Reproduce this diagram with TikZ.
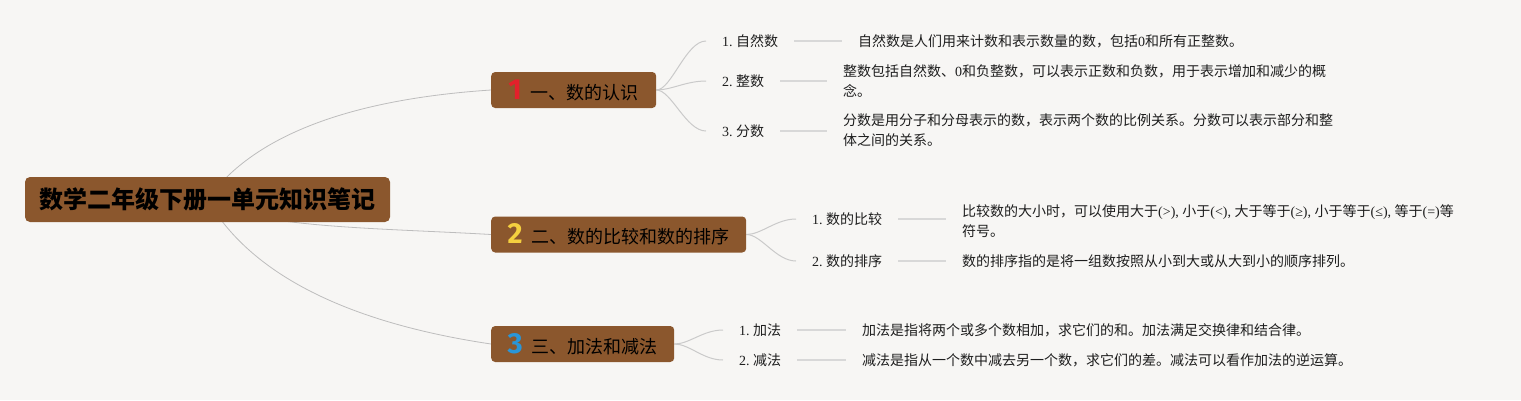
\documentclass[tikz,border=0pt]{standalone}
\usepackage{fontspec}
\setmainfont{Noto Sans CJK SC}
\newfontfamily\lat{Liberation Serif}
\newfontfamily\digitfont{Fira Sans}
\usetikzlibrary{calc}
\definecolor{bgc}{HTML}{F7F6F4}
\definecolor{boxc}{HTML}{8B572D}
\definecolor{rootline}{HTML}{BDBDBD}
\definecolor{leaflinec}{HTML}{CACACA}
\definecolor{stubline}{HTML}{D8D8D8}
\definecolor{numred}{HTML}{E3202B}
\definecolor{numyellow}{HTML}{F4D03F}
\definecolor{numblue}{HTML}{2A96D8}
\definecolor{txt}{HTML}{1E1E1E}
\pgfdeclarelayer{bg}
\pgfsetlayers{bg,main}
\newcommand\bnum[2]{{\digitfont\bfseries\fontsize{29}{29}\selectfont\color{#1}#2}\hspace{9pt}}
\newcommand\num[1]{{\lat #1.}\hspace{3.5pt}}
\newcommand\sym[1]{{\lat (#1),}\hspace{3.5pt}}
\newcommand\lines[1]{\begin{tabular}{@{}l@{}}#1\end{tabular}}
\begin{document}
\begin{tikzpicture}[x=1pt,y=-1pt,
 rootbox/.style={fill=boxc, rounded corners=5pt, minimum width=365pt, minimum height=45pt, inner sep=0pt, font=\fontsize{24}{28}\selectfont\bfseries, text=black},
 branchbox/.style={fill=boxc, rounded corners=4pt, minimum height=36pt, inner sep=0pt, anchor=west, font=\fontsize{18}{22}\selectfont, text=black},
 leaflabel/.style={anchor=west, inner xsep=16pt, inner ysep=0pt, font=\fontsize{14}{20}\selectfont, text=txt},
 leaftext/.style={anchor=west, inner xsep=16pt, inner ysep=0pt, font=\fontsize{14}{20}\selectfont, text=txt},
 mainlink/.style={draw=rootline, line width=0.8pt},
 sublink/.style={draw=leaflinec, line width=1pt},
 stub/.style={draw=stubline, line width=1.5pt},
]
\useasboundingbox (0,0) rectangle (1521,400);

% root
\node[rootbox] (root) at (207.5,199.5) {数学二年级下册一单元知识笔记};

% branches
\node[branchbox, minimum width=165pt] (b1) at (491,90) {\bnum{numred}{1}一、数的认识};
\node[branchbox, minimum width=255pt] (b2) at (491,234.5) {\bnum{numyellow}{2}二、数的比较和数的排序};
\node[branchbox, minimum width=183pt] (b3) at (491,344) {\bnum{numblue}{3}三、加法和减法};

% leaves of branch 1
\node[leaflabel] (l11) at (706,41) {\num{1}自然数};
\node[leaflabel] (l12) at (706,81) {\num{2}整数};
\node[leaflabel] (l13) at (706,131) {\num{3}分数};
\node[leaftext] (t11) at (842,41) {自然数是人们用来计数和表示数量的数，包括{\lat 0}和所有正整数。};
\node[leaftext] (t12) at (827,82) {\lines{整数包括自然数、{\lat 0}和负整数，可以表示正数和负数，用于表示增加和减少的概\\念。}};
\node[leaftext] (t13) at (827,131) {\lines{分数是用分子和分母表示的数，表示两个数的比例关系。分数可以表示部分和整\\体之间的关系。}};

% leaves of branch 2
\node[leaflabel] (l21) at (796,219) {\num{1}数的比较};
\node[leaflabel] (l22) at (796,261) {\num{2}数的排序};
\node[leaftext] (t21) at (946,222) {\lines{比较数的大小时，可以使用大于\sym{>}小于\sym{<}大于等于\sym{≥}小于等于\sym{≤}等于{\lat (=)}等\\符号。}};
\node[leaftext] (t22) at (946,261) {数的排序指的是将一组数按照从小到大或从大到小的顺序排列。};

% leaves of branch 3
\node[leaflabel] (l31) at (723,330) {\num{1}加法};
\node[leaflabel] (l32) at (723,360) {\num{2}减法};
\node[leaftext] (t31) at (846,330) {加法是指将两个或多个数相加，求它们的和。加法满足交换律和结合律。};
\node[leaftext] (t32) at (846,360) {减法是指从一个数中减去另一个数，求它们的差。减法可以看作加法的逆运算。};

\begin{pgfonlayer}{bg}
\fill[bgc] (0,0) rectangle (1521,400);
% root to branches
\draw[mainlink] (root.center) .. controls (250,140) and (340,100) .. (b1.west);
\draw[mainlink] (root.center) .. controls (250,228) and (380,228) .. (b2.west);
\draw[mainlink] (root.center) .. controls (245,265) and (330,320) .. (b3.west);
% branch to leaves
\foreach \b/\l in {b1/l11,b1/l12,b1/l13,b2/l21,b2/l22,b3/l31,b3/l32}{
  \draw[sublink] (\b.east) .. controls +(15,0) and +(-20,0) .. (\l.west);
}
% label to text stubs
\foreach \l/\t in {l11/t11,l12/t12,l13/t13,l21/t21,l22/t22,l31/t31,l32/t32}{
  \draw[stub] (\l.east) -- (\l.east -| \t.west);
}
\end{pgfonlayer}
\end{tikzpicture}
\end{document}
